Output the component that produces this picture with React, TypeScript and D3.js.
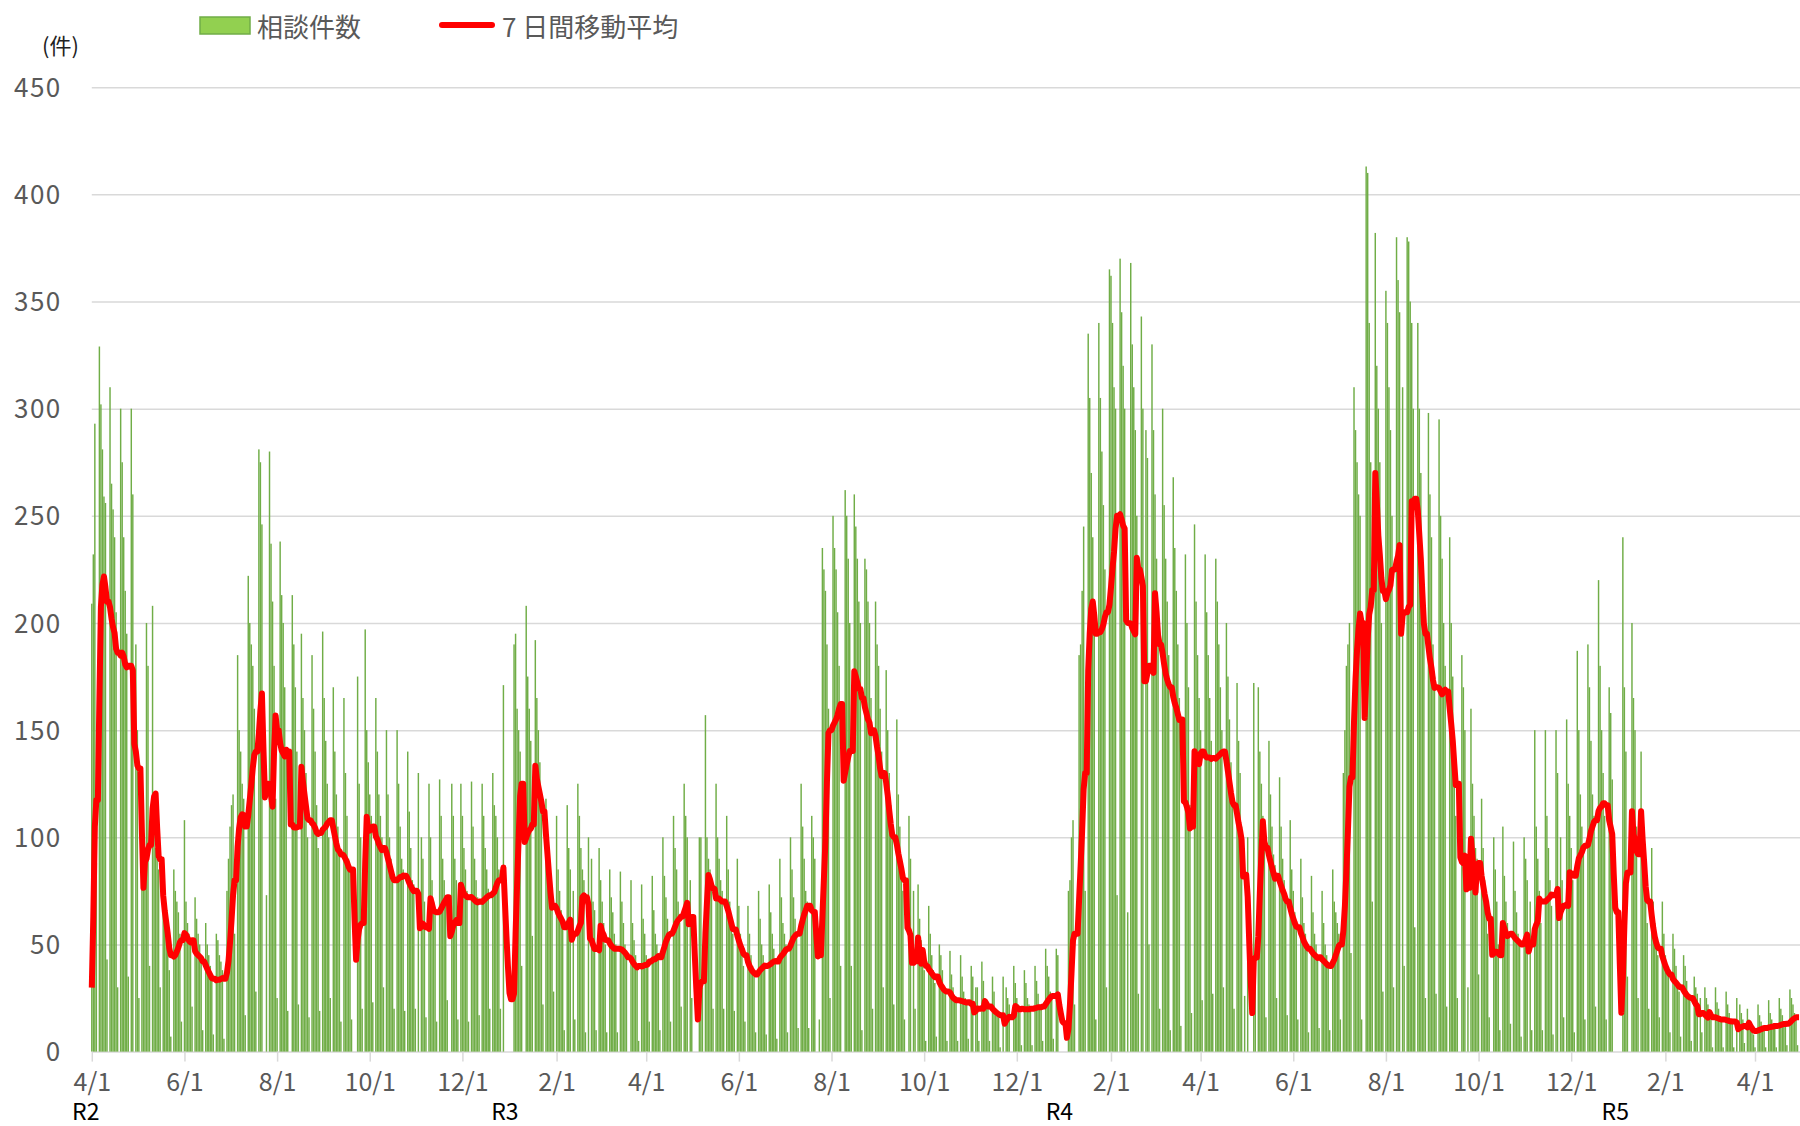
import React, { useRef, useEffect } from 'react';
import * as d3 from 'd3';

// first day of the series
const startDate = '2020-04-01';

// 相談件数 (daily). One line = one week Mon..Sun (first/last lines partial)
// R2: 2020-04-01 .. 2021-03-31
const countsR2 = [
  209, 232, 293, 88, 0,
  329, 302, 281, 259, 256, 43, 0,
  310, 265, 253, 240, 205, 30, 0,
  300, 275, 240, 215, 195, 35, 0,
  300, 260, 0, 190, 150, 25, 0,
  90, 80, 85, 200, 180, 40, 0,
  208, 120, 95, 90, 85, 30, 0,
  90, 70, 58, 52, 38, 7, 0,
  85, 75, 70, 65, 55, 14, 0,
  108, 70, 60, 55, 50, 21, 0,
  72, 62, 55, 50, 45, 10, 0,
  60, 50, 45, 40, 35, 8, 0,
  55, 52, 45, 42, 38, 6, 0,
  75, 90, 105, 115, 120, 55, 0,
  185, 150, 140, 125, 118, 17, 0,
  222, 200, 190, 180, 160, 28, 0,
  281, 275, 246, 0, 0, 73, 0,
  280, 237, 210, 180, 118, 25, 0,
  238, 213, 200, 170, 140, 19, 0,
  0, 213, 190, 170, 140, 22, 0,
  195, 165, 150, 130, 100, 16, 0,
  185, 160, 140, 115, 95, 19, 0,
  196, 165, 145, 125, 100, 25, 0,
  170, 140, 120, 105, 95, 14, 0,
  165, 130, 110, 90, 85, 15, 0,
  0, 0, 175, 125, 100, 20, 0,
  197, 150, 135, 120, 110, 23, 0,
  165, 140, 120, 110, 100, 30, 0,
  150, 120, 100, 90, 80, 20, 0,
  150, 125, 105, 90, 85, 19, 0,
  140, 112, 95, 80, 78, 20, 0,
  130, 0, 100, 90, 70, 16, 0,
  125, 100, 80, 70, 66, 14, 0,
  127, 110, 90, 80, 73, 24, 0,
  0, 125, 110, 90, 80, 15, 0,
  125, 110, 95, 85, 75, 14, 0,
  126, 105, 90, 80, 72, 17, 0,
  125, 110, 95, 85, 76, 20, 0,
  130, 115, 110, 100, 85, 20, 0,
  171, 0, 0, 0, 0, 0, 0,
  190, 195, 160, 150, 140, 40, 0,
  0, 208, 175, 160, 145, 54, 0,
  192, 165, 150, 135, 120, 22, 0,
  118, 100, 85, 75, 70, 28, 0,
  110, 85, 75, 66, 60, 10, 0,
  115, 95, 85, 0, 75, 15, 0,
  125, 110, 95, 85, 80, 9, 0,
  100, 0, 90, 70, 66, 10, 0,
  95, 80, 70, 60, 50, 9, 0,
  85, 72, 65, 55, 50, 9, 0,
  84, 70, 60, 50, 44, 0, 0,
  80, 60, 52, 45, 38, 5, 0,
  78, 62, 55,
];

// R3: 2021-04-01 .. 2022-03-31
const countsR3 = [
  45, 40, 14, 0,
  82, 66, 55, 50, 45, 10, 0,
  100, 82, 72, 62, 55, 14, 0,
  110, 95, 85, 70, 60, 21, 0,
  125, 110, 100, 0, 80, 25, 0,
  0, 0, 0, 100, 100, 30, 0,
  157, 100, 90, 85, 80, 20, 0,
  125, 100, 90, 80, 75, 20, 0,
  110, 85, 70, 60, 55, 19, 0,
  90, 68, 55, 48, 40, 14, 0,
  68, 55, 45, 40, 35, 9, 0,
  75, 62, 50, 45, 40, 8, 0,
  78, 65, 55, 48, 42, 6, 0,
  90, 72, 60, 55, 50, 9, 0,
  100, 85, 72, 62, 55, 11, 0,
  125, 105, 90, 75, 70, 11, 0,
  110, 100, 90, 0, 0, 15, 0,
  235, 225, 215, 190, 160, 25, 0,
  250, 235, 225, 205, 180, 40, 0,
  0, 262, 250, 230, 200, 40, 0,
  260, 245, 230, 210, 200, 10, 0,
  230, 225, 210, 200, 165, 20, 0,
  210, 190, 180, 160, 140, 30, 0,
  178, 150, 130, 115, 105, 22, 0,
  155, 120, 105, 90, 75, 15, 0,
  0, 110, 90, 0, 75, 20, 0,
  78, 62, 52, 45, 38, 5, 0,
  68, 55, 45, 38, 32, 7, 0,
  50, 45, 38, 30, 28, 5, 0,
  47, 36, 30, 26, 24, 5, 0,
  45, 35, 28, 25, 22, 6, 0,
  40, 35, 0, 30, 30, 5, 0,
  42, 33, 25, 22, 20, 5, 0,
  35, 28, 20, 18, 16, 2, 0,
  35, 0, 30, 25, 22, 0, 0,
  40, 32, 25, 22, 18, 3, 0,
  38, 32, 25, 22, 20, 3, 0,
  40, 33, 27, 22, 20, 5, 0,
  48, 40, 35, 28, 25, 6, 0,
  48, 45, 0, 0, 0, 0, 0,
  0, 75, 80, 100, 108, 22, 0,
  0, 185, 190, 215, 245, 75, 0,
  335, 305, 270, 240, 200, 15, 0,
  340, 305, 280, 255, 225, 30, 0,
  365, 362, 340, 310, 300, 73, 0,
  370, 345, 320, 300, 0, 65, 0,
  368, 330, 310, 290, 250, 27, 0,
  343, 300, 0, 290, 277, 50, 0,
  330, 290, 260, 230, 200, 20, 0,
  300, 255, 230, 210, 185, 10, 0,
  268, 235, 215, 190, 165, 12, 0,
  0, 232, 200, 170, 115, 18, 0,
  246, 210, 185, 165,
];

// R4: 2022-04-01 .. 2023-03-31
const countsR4 = [
  150, 24, 0,
  232, 205, 185, 165, 145, 27, 0,
  230, 210, 190, 170, 150, 30, 0,
  200, 175, 155, 135, 120, 20, 0,
  172, 145, 130, 105, 0, 26, 0,
  100, 0, 0, 0, 172, 35, 0,
  170, 140, 125, 110, 105, 16, 0,
  145, 120, 105, 92, 87, 25, 0,
  128, 105, 90, 80, 70, 17, 0,
  108, 85, 75, 65, 58, 15, 0,
  90, 72, 60, 55, 50, 9, 0,
  82, 65, 55, 50, 45, 11, 0,
  75, 60, 50, 45, 40, 10, 0,
  85, 70, 65, 60, 55, 15, 0,
  130, 150, 180, 190, 200, 46, 0,
  310, 290, 275, 260, 250, 15, 0,
  0, 413, 410, 340, 275, 70, 0,
  382, 320, 300, 275, 200, 28, 0,
  355, 340, 310, 290, 250, 30, 0,
  380, 360, 345, 0, 310, 40, 0,
  380, 378, 350, 340, 300, 58, 0,
  340, 300, 270, 230, 200, 25, 0,
  298, 260, 240, 190, 175, 27, 0,
  295, 250, 230, 200, 180, 21, 0,
  240, 200, 175, 125, 110, 25, 0,
  0, 185, 170, 150, 0, 30, 0,
  160, 125, 110, 95, 90, 36, 0,
  118, 95, 80, 70, 55, 16, 0,
  0, 100, 85, 70, 50, 10, 0,
  105, 82, 70, 60, 55, 13, 0,
  98, 75, 65, 55, 50, 7, 0,
  100, 90, 80, 0, 70, 10, 0,
  150, 105, 90, 75, 60, 10, 0,
  150, 110, 95, 80, 68, 8, 0,
  150, 130, 0, 100, 80, 16, 0,
  155, 125, 110, 95, 80, 9, 0,
  187, 150, 120, 105, 95, 15, 0,
  190, 170, 145, 120, 110, 21, 0,
  220, 180, 150, 130, 110, 15, 0,
  170, 158, 127, 0, 0, 0, 0,
  0, 0, 240, 170, 140, 35, 0,
  0, 200, 165, 150, 105, 25, 0,
  140, 110, 90, 70, 60, 20, 0,
  95, 70, 60, 50, 45, 16, 0,
  70, 55, 45, 38, 35, 9, 0,
  55, 48, 40, 32, 28, 7, 0,
  45, 40, 33, 27, 25, 5, 0,
  35, 30, 27, 0, 25, 9, 0,
  30, 25, 22, 18, 15, 2, 0,
  30, 23, 20, 16, 14, 2, 0,
  28, 22, 18, 15, 13, 2, 0,
  25, 0, 22, 18, 15, 4, 0,
  20, 15, 12, 10, 8,
];

// R5: 2023-04-01 .. 2023-04-30
const countsR5 = [
  2, 0,
  22, 17, 14, 12, 10, 2, 0,
  24, 18, 15, 13, 12, 2, 0,
  25, 20, 17, 14, 12, 3, 0,
  29, 25, 22, 18, 15, 3, 0,
];

const yTicks = [0, 50, 100, 150, 200, 250, 300, 350, 400, 450];

const xTickDates = [
  '2020-04-01', '2020-06-01', '2020-08-01', '2020-10-01', '2020-12-01',
  '2021-02-01', '2021-04-01', '2021-06-01', '2021-08-01', '2021-10-01', '2021-12-01',
  '2022-02-01', '2022-04-01', '2022-06-01', '2022-08-01', '2022-10-01', '2022-12-01',
  '2023-02-01', '2023-04-01',
];

const eraLabels = ['R2', 'R3', 'R4', 'R5'];
const eraDates = ['2020-03-28', '2020-12-29', '2021-12-29', '2022-12-30'];

const barName = '相談件数';
const lineName = '7 日間移動平均';

const App = () => {
  const svgRef = useRef<SVGSVGElement>(null);

  useEffect(() => {
    const W = 1800;
    const H = 1126;
    const left = 91.8;
    const parse = d3.timeParse('%Y-%m-%d');
    const fmt = d3.timeFormat('%-m/%-d');
    const font = '"Noto Sans CJK JP", "Noto Sans", sans-serif';

    const counts = [...countsR2, ...countsR3, ...countsR4, ...countsR5];
    const start = parse(startDate)!;
    const days = counts.map((_, i) => d3.timeDay.offset(start, i));
    // 7-day trailing average
    const avg = counts.map((_, i) => d3.sum(counts.slice(Math.max(0, i - 6), i + 1)) / 7);

    const x = d3.scaleTime()
      .domain([start, parse('2023-04-01')!])
      .range([left, 1755]);
    const y = d3.scaleLinear().domain([0, 450]).range([1051.6, 87.2]);

    const svg = d3.select(svgRef.current)
      .attr('width', W)
      .attr('height', H)
      .style('font-family', font);
    svg.selectAll('*').remove();

    // y grid + labels
    const yAxis = d3.axisLeft(y).tickValues(yTicks).tickSize(-(W - left)).tickPadding(30);
    svg.append('g')
      .attr('transform', `translate(${left},0)`)
      .call(yAxis)
      .attr('font-family', font)
      .call(g => g.select('.domain').remove())
      .call(g => g.selectAll('line').attr('stroke', '#d9d9d9').attr('stroke-width', 1.5))
      .call(g => g.selectAll('text')
        .attr('fill', '#595959')
        .attr('font-size', 26)
        .attr('letter-spacing', 1.5)
        .attr('dy', '0.35em'));

    // bars
    const barW = 1.45;
    svg.append('g')
      .selectAll('rect')
      .data(counts)
      .join('rect')
      .attr('x', (d, i) => x(days[i]) - barW / 2)
      .attr('y', d => y(d))
      .attr('width', barW)
      .attr('height', d => y(0) - y(d))
      .attr('fill', '#70ad47');

    // x axis ticks + labels
    const xAxis = d3.axisBottom(x)
      .tickValues(xTickDates.map(s => parse(s)!))
      .tickFormat(d => fmt(d as Date))
      .tickSize(10)
      .tickPadding(12);
    svg.append('g')
      .attr('transform', `translate(0,${y(0)})`)
      .call(xAxis)
      .attr('font-family', font)
      .call(g => g.select('.domain').remove())
      .call(g => g.selectAll('line').attr('stroke', '#d9d9d9').attr('stroke-width', 1.5))
      .call(g => g.selectAll('text').attr('fill', '#595959').attr('font-size', 25));

    // fiscal year labels
    svg.append('g')
      .selectAll('text')
      .data(eraLabels)
      .join('text')
      .attr('x', (d, i) => x(parse(eraDates[i])!))
      .attr('y', 1120)
      .attr('text-anchor', 'middle')
      .attr('font-size', 23)
      .attr('fill', '#000')
      .text(d => d);

    // moving average line
    const line = d3.line<number>()
      .x((d, i) => x(days[i]))
      .y(d => y(d));
    svg.append('path')
      .datum(avg)
      .attr('d', line)
      .attr('fill', 'none')
      .attr('stroke', '#ff0000')
      .attr('stroke-width', 6)
      .attr('stroke-linejoin', 'round');

    // unit
    svg.append('text')
      .attr('x', 42)
      .attr('y', 44)
      .attr('dominant-baseline', 'central')
      .attr('font-size', 22)
      .attr('fill', '#222')
      .text('(件)');

    // legend
    const lg = svg.append('g').attr('font-size', 26).attr('fill', '#595959');
    lg.append('rect')
      .attr('x', 200).attr('y', 17)
      .attr('width', 50).attr('height', 17)
      .attr('fill', '#92d050')
      .attr('stroke', '#70ad47')
      .attr('stroke-width', 1.5);
    lg.append('text')
      .attr('x', 257).attr('y', 25)
      .attr('dominant-baseline', 'central')
      .text(barName);
    lg.append('line')
      .attr('x1', 442).attr('x2', 492)
      .attr('y1', 25).attr('y2', 25)
      .attr('stroke', '#ff0000')
      .attr('stroke-width', 6)
      .attr('stroke-linecap', 'round');
    lg.append('text')
      .attr('x', 502).attr('y', 25)
      .attr('dominant-baseline', 'central')
      .text(lineName);
  }, []);

  return (
    <svg
      ref={svgRef}
      style={{ position: 'absolute', left: 0, top: 0, background: '#fff' }}
    ></svg>
  );
};

export default App;
